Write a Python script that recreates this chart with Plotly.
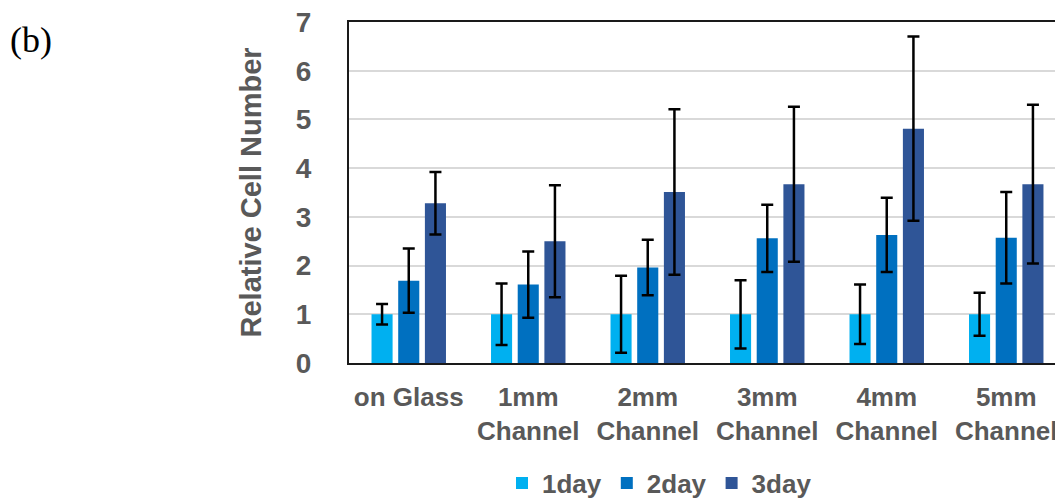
import plotly.graph_objects as go

categories = ["on Glass", "1mm<br>Channel", "2mm<br>Channel", "3mm<br>Channel", "4mm<br>Channel", "5mm<br>Channel"]
series_names = ["1day", "2day", "3day"]
day1 = [1.0, 1.0, 1.0, 1.0, 1.0, 1.0]
err1 = [0.21, 0.63, 0.79, 0.70, 0.61, 0.44]
day2 = [1.69, 1.61, 1.96, 2.56, 2.63, 2.57]
err2 = [0.66, 0.68, 0.57, 0.69, 0.76, 0.94]
day3 = [3.28, 2.50, 3.51, 3.67, 4.81, 3.67]
err3 = [0.64, 1.15, 1.70, 1.59, 1.89, 1.63]
colors = ["#00B0F0", "#0070C0", "#2F5597"]
y_ticks = [0, 1, 2, 3, 4, 5, 6, 7]

sans = "Liberation Sans, Arial, sans-serif"
grey = "#595959"

# page body has an 8px margin: the figure is drawn 8px right/down of the window corner
OFF = 8
W, H = 1063 - OFF, 500 - OFF
L, R, T, B = 349 - OFF, 0, 22 - OFF, H - (363 - OFF)
pw, ph = W - L - R, H - T - B

fig = go.Figure()
for name, vals, errs, col in zip(series_names, [day1, day2, day3], [err1, err2, err3], colors):
    fig.add_trace(go.Bar(
        x=categories, y=vals, name="<b>" + name + "</b>",
        marker=dict(color=col, line=dict(width=0)),
        error_y=dict(type="data", array=errs, visible=True, color="black", thickness=2.5, width=6),
    ))

fig.update_layout(
    width=W, height=H,
    margin=dict(l=L, r=R, t=T, b=B, autoexpand=False),
    plot_bgcolor="white", paper_bgcolor="white",
    barmode="group", bargap=0.33, bargroupgap=0.21,
    showlegend=True,
    legend=dict(orientation="h", xref="paper", x=(502 - OFF - L) / pw, xanchor="left",
                yref="container", y=(H - (483 - OFF)) / H, yanchor="middle",
                font=dict(family=sans, size=26, color=grey),
                itemwidth=30, traceorder="normal"),
    xaxis=dict(
        range=[-0.5, 5.475], showline=True, linecolor="#1a1a1a", linewidth=2, mirror=True,
        tickvals=categories, ticktext=["<b>" + c + "</b>" for c in categories],
        tickfont=dict(family=sans, size=26, color=grey), ticklabeloverflow="allow",
        ticks="", ticklabelstandoff=10, showgrid=False, automargin=False,
    ),
    yaxis=dict(
        range=[0, 7], tickvals=y_ticks, ticktext=["<b>" + str(t) + "</b>" for t in y_ticks],
        showline=True, linecolor="#1a1a1a", linewidth=2,
        showgrid=True, gridcolor="#d9d9d9", gridwidth=1.5, zeroline=False,
        tickfont=dict(family=sans, size=28, color=grey), ticklabeloverflow="allow",
        ticks="", ticklabelstandoff=30, automargin=False,
    ),
)

fig.add_annotation(text="<b>Relative Cell Number</b>", xref="paper", yref="paper",
                   x=(250 - OFF - L) / pw, y=0.5, xanchor="center", yanchor="middle",
                   textangle=-90, showarrow=False,
                   font=dict(family=sans, size=29, color=grey))
fig.add_annotation(text="(b)", xref="paper", yref="paper",
                   x=(8 - OFF - L) / pw, y=(H - B - (40 - OFF)) / ph, xanchor="left", yanchor="middle",
                   showarrow=False,
                   font=dict(family="Liberation Serif, Times New Roman, serif", size=36, color="black"))

fig.write_html(
    "out.html",
    post_script="document.documentElement.style.overflow='hidden';document.body.style.overflow='hidden';",
)
